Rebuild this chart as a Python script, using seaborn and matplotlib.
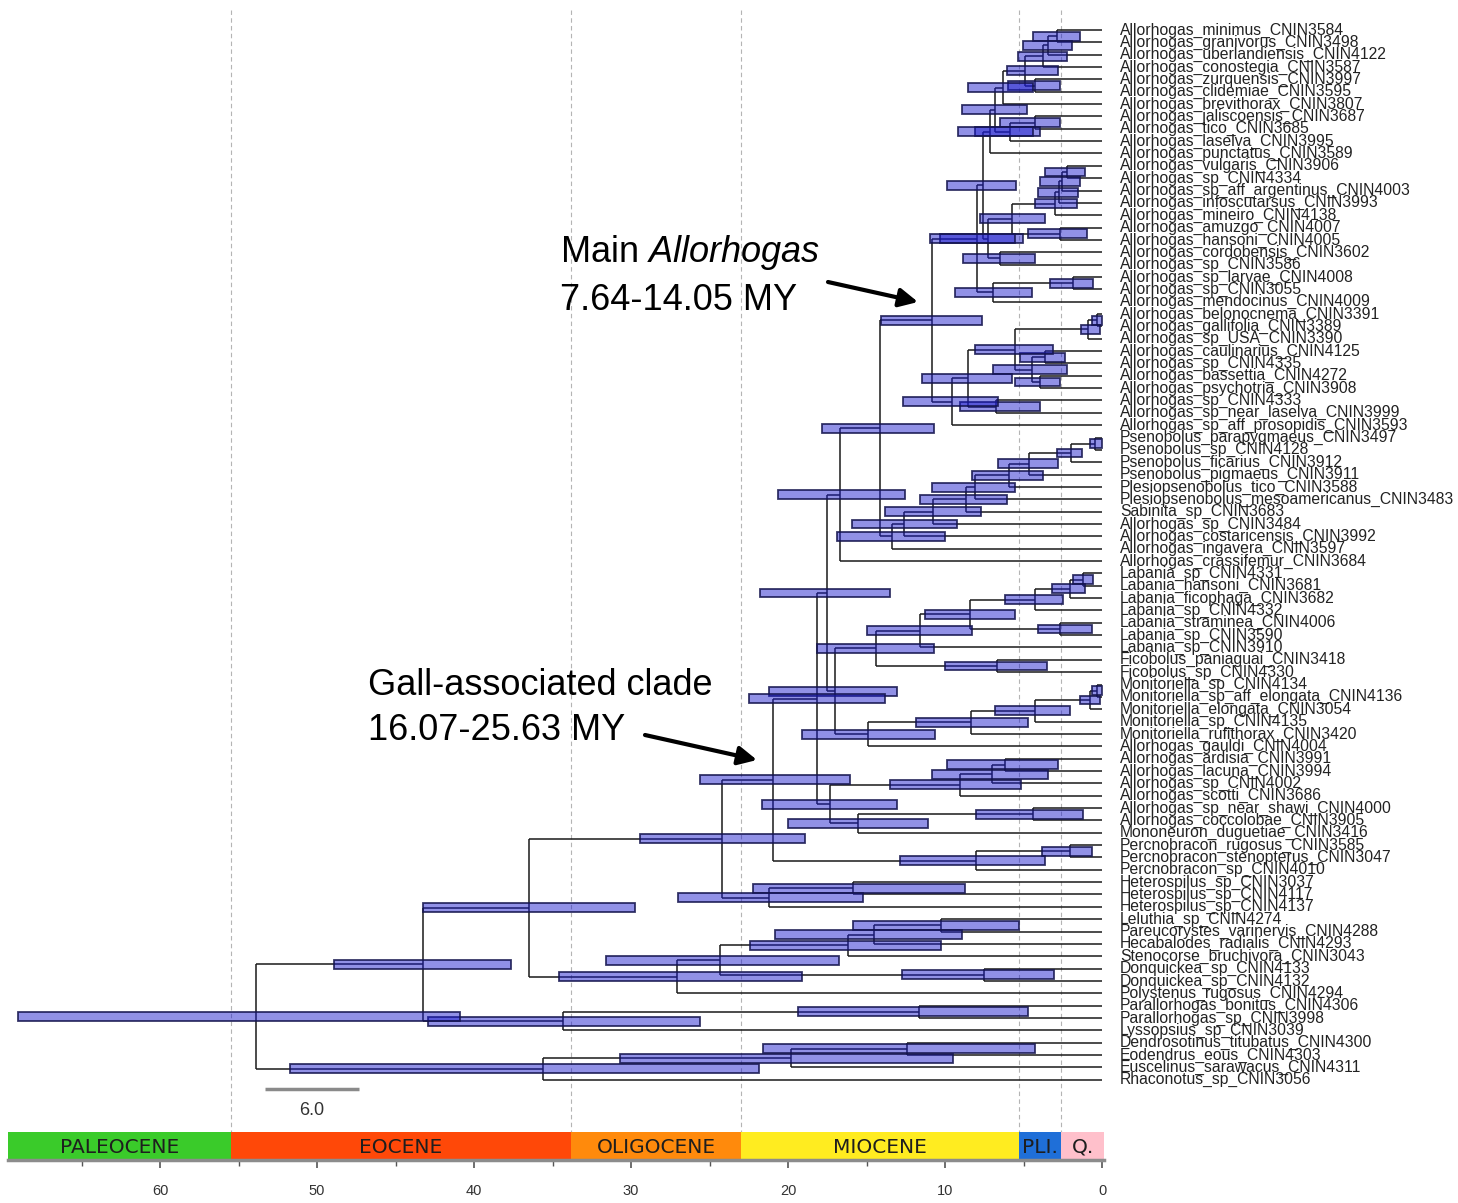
"""Dated phylogeny of Doryctinae genera with 95% HPD bars and a geological time scale."""

import matplotlib

matplotlib.use("Agg")
import matplotlib.pyplot as plt
import numpy as np
import seaborn as sns

# ---------------------------------------------------------------- data
tip_labels = [
    "Allorhogas_minimus_CNIN3584", "Allorhogas_granivorus_CNIN3498",
    "Allorhogas_uberlandiensis_CNIN4122", "Allorhogas_conostegia_CNIN3587",
    "Allorhogas_zurquensis_CNIN3997", "Allorhogas_clidemiae_CNIN3595",
    "Allorhogas_brevithorax_CNIN3807", "Allorhogas_jaliscoensis_CNIN3687",
    "Allorhogas_tico_CNIN3685", "Allorhogas_laselva_CNIN3995",
    "Allorhogas_punctatus_CNIN3589", "Allorhogas_vulgaris_CNIN3906",
    "Allorhogas_sp_CNIN4334", "Allorhogas_sp_aff_argentinus_CNIN4003",
    "Allorhogas_infoscutarsus_CNIN3993", "Allorhogas_mineiro_CNIN4138",
    "Allorhogas_amuzgo_CNIN4007", "Allorhogas_hansoni_CNIN4005",
    "Allorhogas_cordobensis_CNIN3602", "Allorhogas_sp_CNIN3586",
    "Allorhogas_sp_larvae_CNIN4008", "Allorhogas_sp_CNIN3055",
    "Allorhogas_mendocinus_CNIN4009", "Allorhogas_belonocnema_CNIN3391",
    "Allorhogas_gallifolia_CNIN3389", "Allorhogas_sp_USA_CNIN3390",
    "Allorhogas_caulinarius_CNIN4125", "Allorhogas_sp_CNIN4335",
    "Allorhogas_bassettia_CNIN4272", "Allorhogas_psychotria_CNIN3908",
    "Allorhogas_sp_CNIN4333", "Allorhogas_sp_near_laselva_CNIN3999",
    "Allorhogas_sp_aff_prosopidis_CNIN3593", "Psenobolus_parapygmaeus_CNIN3497",
    "Psenobolus_sp_CNIN4128", "Psenobolus_ficarius_CNIN3912",
    "Psenobolus_pigmaeus_CNIN3911", "Plesiopsenobolus_tico_CNIN3588",
    "Plesiopsenobolus_mesoamericanus_CNIN3483", "Sabinita_sp_CNIN3683",
    "Allorhogas_sp_CNIN3484", "Allorhogas_costaricensis_CNIN3992",
    "Allorhogas_ingavera_CNIN3597", "Allorhogas_crassifemur_CNIN3684",
    "Labania_sp_CNIN4331", "Labania_hansoni_CNIN3681",
    "Labania_ficophaga_CNIN3682", "Labania_sp_CNIN4332",
    "Labania_straminea_CNIN4006", "Labania_sp_CNIN3590",
    "Labania_sp_CNIN3910", "Ficobolus_paniaguai_CNIN3418",
    "Ficobolus_sp_CNIN4330", "Monitoriella_sp_CNIN4134",
    "Monitoriella_sp_aff_elongata_CNIN4136", "Monitoriella_elongata_CNIN3054",
    "Monitoriella_sp_CNIN4135", "Monitoriella_rufithorax_CNIN3420",
    "Allorhogas_gauldi_CNIN4004", "Allorhogas_ardisia_CNIN3991",
    "Allorhogas_lacuna_CNIN3994", "Allorhogas_sp_CNIN4002",
    "Allorhogas_scotti_CNIN3686", "Allorhogas_sp_near_shawi_CNIN4000",
    "Allorhogas_coccolobae_CNIN3905", "Mononeuron_duguetiae_CNIN3416",
    "Percnobracon_rugosus_CNIN3585", "Percnobracon_stenopterus_CNIN3047",
    "Percnobracon_sp_CNIN4010", "Heterospilus_sp_CNIN3037",
    "Heterospilus_sp_CNIN4117", "Heterospilus_sp_CNIN4137",
    "Leluthia_sp_CNIN4274", "Pareucorystes_varinervis_CNIN4288",
    "Hecabalodes_radialis_CNIN4293", "Stenocorse_bruchivora_CNIN3043",
    "Donquickea_sp_CNIN4133", "Donquickea_sp_CNIN4132",
    "Polystenus_rugosus_CNIN4294", "Parallorhogas_bonitus_CNIN4306",
    "Parallorhogas_sp_CNIN3998", "Lyssopsius_sp_CNIN3039",
    "Dendrosotinus_titubatus_CNIN4300", "Eodendrus_eous_CNIN4303",
    "Euscelinus_sarawacus_CNIN4311", "Rhaconotus_sp_CNIN3056",
]

# each internal node = the block of tips it contains (1-based, first..last)
node_first = [1, 1, 1, 5, 1, 1, 8, 8, 1, 1,
              12, 12, 12, 12, 17, 12, 19, 12, 1, 21, 21, 1,
              24, 24, 27, 29, 27, 24, 31, 24, 24, 1,
              34, 34, 34, 34, 34, 34, 34, 34, 34, 1, 1,
              45, 45, 45, 49, 45, 45, 52, 45,
              54, 54, 54, 54, 54, 45, 1,
              60, 60, 60, 64, 64, 60, 1,
              67, 67, 1,
              70, 70, 1,
              73, 73, 73, 77, 73, 73, 1,
              80, 80, 1,
              83, 83, 83, 1]
node_last = [2, 3, 4, 6, 6, 7, 9, 10, 10, 11,
             13, 14, 15, 16, 18, 18, 20, 20, 20, 22, 23, 23,
             25, 26, 28, 30, 30, 30, 32, 32, 33, 33,
             35, 36, 37, 38, 39, 40, 41, 42, 43, 43, 44,
             46, 47, 48, 50, 50, 51, 53, 53,
             55, 56, 57, 58, 59, 59, 59,
             61, 62, 63, 65, 66, 66, 66,
             68, 69, 69,
             71, 72, 72,
             74, 75, 76, 78, 78, 79, 79,
             81, 82, 82,
             84, 85, 86, 86]
# node height (MY) and 95% HPD interval
node_age = [2.87, 3.44, 3.76, 4.27, 4.90, 6.31, 4.27, 5.86, 6.82, 7.13,
            2.23, 2.55, 2.74, 3.00, 2.68, 5.73, 6.50, 7.26, 7.58, 1.85, 6.94, 7.96,
            0.32, 0.89, 3.63, 3.95, 4.46, 5.54, 6.75, 8.54, 9.55, 10.83,
            0.45, 1.97, 4.65, 5.92, 8.09, 8.66, 10.76, 12.61, 13.38, 14.14, 16.69,
            1.21, 2.04, 4.27, 2.68, 8.41, 11.59, 6.69, 14.39,
            0.32, 0.76, 4.27, 8.34, 14.90, 17.01, 17.52,
            6.18, 7.01, 9.04, 4.39, 15.54, 17.32, 18.15,
            2.04, 8.03, 20.96,
            15.86, 21.21, 24.20,
            10.25, 14.52, 16.18, 7.52, 24.33, 27.07, 36.50,
            11.66, 34.33, 43.25,
            12.42, 19.81, 35.61, 53.89]
hpd_young = [1.40, 1.91, 2.23, 2.68, 2.80, 4.39, 2.68, 3.95, 4.78, 4.39,
             1.08, 1.40, 1.53, 1.59, 0.96, 3.63, 4.27, 5.03, 5.48, 0.57, 4.46, 5.54,
             0.00, 0.13, 2.36, 2.68, 2.23, 3.12, 3.95, 5.73, 6.62, 7.64,
             0.00, 1.27, 2.80, 3.76, 5.54, 6.05, 7.71, 9.24, 10.00, 10.70, 12.55,
             0.57, 1.08, 2.48, 0.64, 5.54, 8.28, 3.50, 10.70,
             0.00, 0.13, 2.04, 4.71, 10.64, 13.06, 13.50,
             2.80, 3.44, 5.16, 1.21, 11.08, 13.06, 13.82,
             0.64, 3.63, 16.07,
             8.73, 15.22, 18.92,
             5.29, 8.92, 10.25, 3.06, 16.75, 19.11, 29.75,
             4.71, 25.61, 37.64,
             4.27, 9.49, 21.85, 40.89]
hpd_old = [4.39, 5.03, 5.35, 5.99, 6.05, 8.54, 6.50, 8.09, 8.92, 9.17,
           3.63, 3.95, 4.08, 4.27, 4.71, 7.77, 8.85, 10.32, 9.87, 3.31, 9.36, 10.96,
           0.64, 1.34, 5.22, 5.54, 6.94, 8.09, 9.04, 11.46, 12.68, 14.05,
           0.76, 2.87, 6.62, 8.28, 10.83, 11.59, 13.82, 15.92, 16.88, 17.83, 20.64,
           1.85, 3.18, 6.18, 4.08, 11.27, 14.97, 10.00, 18.15,
           0.64, 1.40, 6.82, 11.85, 19.11, 21.21, 21.78,
           9.87, 10.83, 13.50, 8.03, 20.00, 21.66, 22.48,
           3.82, 12.87, 25.63,
           22.23, 27.01, 29.43,
           15.86, 20.83, 22.42, 12.74, 31.59, 34.59, 43.25,
           19.36, 42.93, 48.92,
           21.59, 30.70, 51.72, 69.04]

epoch_names = ["PALEOCENE", "EOCENE", "OLIGOCENE", "MIOCENE", "PLI.", "Q."]
epoch_old = [69.7, 55.5, 33.8, 23.0, 5.3, 2.6]
epoch_young = [55.5, 33.8, 23.0, 5.3, 2.6, -0.15]
epoch_colors = ["#3acb2a", "#ff4808", "#ff8a0c", "#ffec20", "#1f6fd8", "#ffc0cb"]
epoch_boundaries = [55.5, 33.8, 23.0, 5.3, 2.6]

major_ticks = [60, 50, 40, 30, 20, 10, 0]
minor_ticks = [65, 55, 45, 35, 25, 15, 5]
scale_bar_length = 6.0

# ---------------------------------------------------------------- layout (pixels of the 1458x1203 figure)
W, H = 1458, 1203
PX_PER_MY = 15.7
X_ZERO = 1102          # pixel column of age 0
Y_FIRST_TIP = 30       # pixel row of the first tip
TIP_STEP = 12.35       # pixel distance between tips


def age_at(px):
    return (X_ZERO - px) / PX_PER_MY


def row_at(py):
    return (py - Y_FIRST_TIP) / TIP_STEP


# ---------------------------------------------------------------- tree structure
nodes = list(zip(node_first, node_last))


def children(k):
    lo, hi = nodes[k]
    kids, pos = [], lo
    while pos <= hi:
        best = None
        for j, (a, b) in enumerate(nodes):
            if j != k and a == pos and b <= hi and (best is None or b > nodes[best][1]):
                best = j
        if best is None:
            kids.append(("tip", pos))
            pos += 1
        else:
            kids.append(("node", best))
            pos = nodes[best][1] + 1
    return kids


node_kids = [children(k) for k in range(len(nodes))]
node_y = {}


def y_of(kind, ref):
    if kind == "tip":
        return ref - 1
    if ref not in node_y:
        ys = [y_of(*c) for c in node_kids[ref]]
        node_y[ref] = (ys[0] + ys[-1]) / 2
    return node_y[ref]


def age_of(kind, ref):
    return 0.0 if kind == "tip" else node_age[ref]


# ---------------------------------------------------------------- figure
sns.set_theme(style="white")
plt.rcParams["font.family"] = ["Liberation Sans", "DejaVu Sans"]
plt.rcParams["mathtext.fontset"] = "custom"
plt.rcParams["mathtext.rm"] = "Liberation Sans"
plt.rcParams["mathtext.it"] = "Liberation Sans:italic"

fig = plt.figure(figsize=(W / 100, H / 100), dpi=100)
ax = fig.add_axes([0, 0, 1, 1])
ax.set_xlim(age_at(0), age_at(W))
ax.set_ylim(row_at(H), row_at(0))
ax.axis("off")

# epoch boundary guides
ax.vlines(epoch_boundaries, row_at(10), row_at(1160), colors="#b4b4b4",
          linestyles=(0, (4, 3)), linewidth=0.8, zorder=0)

# branches
for k in range(len(nodes)):
    ys = [y_of(*c) for c in node_kids[k]]
    ax.vlines(node_age[k], min(ys), max(ys), color="#1a1a1a", linewidth=1.1, zorder=1)
    for c, yc in zip(node_kids[k], ys):
        ax.hlines(yc, age_of(*c), node_age[k], color="#1a1a1a", linewidth=1.1, zorder=1)

# 95% HPD bars
bar_y = [y_of("node", k) for k in range(len(nodes))]
ax.barh(bar_y, np.subtract(hpd_old, hpd_young), left=hpd_young, height=0.72,
        color=(0.10, 0.10, 0.80, 0.48), edgecolor=(0.08, 0.08, 0.30, 0.85),
        linewidth=1.3, zorder=2)

# tip labels
for i, name in enumerate(tip_labels):
    ax.text(age_at(1120), i, name, fontsize=11.3, color="#222222",
            ha="left", va="center", zorder=3)

# scale bar
ax.hlines(row_at(1089), age_at(265), age_at(265) - scale_bar_length,
          color="#8a8a8a", linewidth=2.5)
ax.text(age_at(265) - scale_bar_length / 2, row_at(1111), f"{scale_bar_length:.1f}",
        fontsize=13, color="#333333", ha="center", va="center")

# clade annotations
ax.text(age_at(560), row_at(262), r"Main $\mathit{Allorhogas}$", fontsize=26,
        ha="left", va="baseline", color="black")
ax.text(age_at(560), row_at(310), "7.64-14.05 MY", fontsize=26,
        ha="left", va="baseline", color="black")
ax.annotate("", xy=(age_at(918), row_at(302)), xytext=(age_at(828), row_at(282)),
            arrowprops=dict(arrowstyle="-|>", color="black", lw=3, mutation_scale=28,
                            shrinkA=0, shrinkB=0))

ax.text(age_at(368), row_at(695), "Gall-associated clade", fontsize=26,
        ha="left", va="baseline", color="black")
ax.text(age_at(368), row_at(740), "16.07-25.63 MY", fontsize=26,
        ha="left", va="baseline", color="black")
ax.annotate("", xy=(age_at(757), row_at(760)), xytext=(age_at(645), row_at(735)),
            arrowprops=dict(arrowstyle="-|>", color="black", lw=3, mutation_scale=28,
                            shrinkA=0, shrinkB=0))

# ---------------------------------------------------------------- geological time scale
left_px, right_px, top_px, bottom_px = 8, 1104, 1132, 1160
ax_t = fig.add_axes([left_px / W, 1 - bottom_px / H,
                     (right_px - left_px) / W, (bottom_px - top_px) / H])
ax_t.set_xlim(age_at(left_px), age_at(right_px))
ax_t.set_ylim(0, 1)
ax_t.barh(0.5, np.subtract(epoch_old, epoch_young), left=epoch_young, height=1,
          color=epoch_colors, edgecolor="none")
for name, old, young in zip(epoch_names, epoch_old, epoch_young):
    ax_t.text((old + young) / 2, 0.45, name, ha="center", va="center", fontsize=14.5,
              color="#1e1e1e", family=["Liberation Sans Narrow", "DejaVu Sans"])

ax_t.set_yticks([])
ax_t.set_xticks(major_ticks)
ax_t.set_xticklabels([str(t) for t in major_ticks])
ax_t.set_xticks(minor_ticks, minor=True)
ax_t.tick_params(axis="x", which="major", direction="out", length=6, width=1.2,
                 color="#555555", pad=11, labelsize=10.5, labelcolor="#333333")
ax_t.tick_params(axis="x", which="minor", direction="out", length=4, width=1.0,
                 color="#555555")
ax_t.tick_params(axis="x", bottom=True, which="both")
for side in ["top", "left", "right"]:
    ax_t.spines[side].set_visible(False)
ax_t.spines["bottom"].set_color("#8c8c8c")
ax_t.spines["bottom"].set_linewidth(2.5)

fig.savefig("out.png", dpi=100)
plt.close(fig)
